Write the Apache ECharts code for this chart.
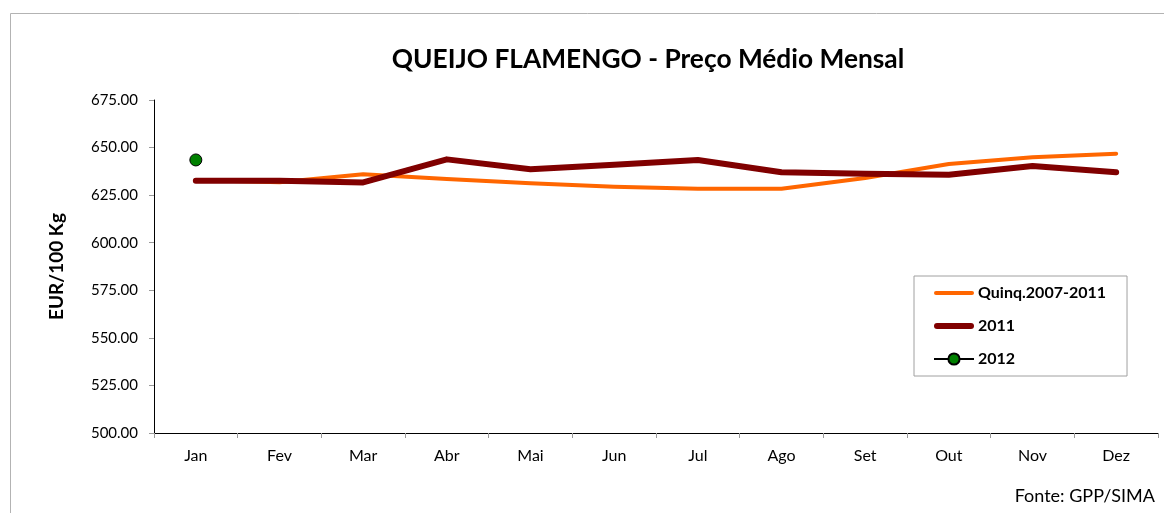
<!DOCTYPE html>
<html>
<head>
<meta charset="utf-8">
<script src="https://cdn.jsdelivr.net/npm/echarts@6/dist/echarts.min.js"></script>
<style>
  html, body { margin: 0; padding: 0; background: #fff; }
  #chart { width: 1164px; height: 513px; }
</style>
</head>
<body>
<div id="chart"></div>
<script>
const months = ['Jan', 'Fev', 'Mar', 'Abr', 'Mai', 'Jun', 'Jul', 'Ago', 'Set', 'Out', 'Nov', 'Dez']
const quinq = [633.0, 631.8, 636.0, 633.5, 631.2, 629.4, 628.4, 628.4, 634.0, 641.4, 644.9, 646.8]
const y2011 = [632.6, 632.5, 631.7, 643.8, 638.6, 641.0, 643.5, 637.0, 636.3, 635.7, 640.3, 637.0]
const y2012 = [643.5, null, null, null, null, null, null, null, null, null, null, null]

const font = 'Lato, Carlito, "Open Sans", sans-serif'

// legend icons: plain lines, no marker
const thinLine = 'path://M2,0 H38 A2,2 0 0 1 38,4 H2 A2,2 0 0 1 2,0 Z'
const thickLine = 'path://M3,0 H37 A3,3 0 0 1 37,6 H3 A3,3 0 0 1 3,0 Z'

const chart = echarts.init(document.getElementById('chart'))

chart.setOption({
  animation: false,
  textStyle: { fontFamily: font },
  graphic: [
    {
      type: 'rect',
      shape: { x: 10.5, y: 13.5, width: 1300, height: 700 },
      style: { fill: 'none', stroke: '#b3b3b3', lineWidth: 1 },
      silent: true
    },
    {
      type: 'text',
      style: {
        text: 'QUEIJO FLAMENGO - Preço Médio Mensal',
        x: 648,
        y: 60,
        align: 'center',
        verticalAlign: 'middle',
        fontFamily: font,
        fontSize: 26.3,
        fontWeight: 'bold',
        fill: '#000'
      }
    },
    {
      type: 'text',
      style: {
        text: 'Fonte: GPP/SIMA',
        x: 1155,
        y: 496,
        align: 'right',
        verticalAlign: 'middle',
        fontFamily: font,
        fontSize: 18,
        fill: '#000'
      }
    }
  ],
  legend: {
    orient: 'vertical',
    left: 914,
    top: 276,
    padding: [9, 21, 9, 19],
    itemGap: 17,
    itemWidth: 40,
    itemHeight: 14,
    borderColor: '#a0a0a0',
    borderWidth: 1,
    backgroundColor: '#fff',
    textStyle: { fontFamily: font, fontSize: 16, fontWeight: 'bold', color: '#000', padding: [0, 0, 0, -1] },
    data: [
      { name: 'Quinq.2007-2011', icon: thinLine },
      { name: '2011', icon: thickLine },
      { name: '2012' }
    ]
  },
  grid: { left: 154, right: 6, top: 100, bottom: 80 },
  xAxis: {
    type: 'category',
    data: months,
    boundaryGap: true,
    axisLine: { lineStyle: { color: '#000', width: 1 } },
    axisTick: { show: true, length: 5, lineStyle: { color: '#999' } },
    axisLabel: { color: '#000', fontSize: 16, margin: 15, fontFamily: font }
  },
  yAxis: {
    type: 'value',
    min: 500,
    max: 675,
    interval: 25,
    name: 'EUR/100 Kg',
    nameLocation: 'middle',
    nameGap: 88,
    nameRotate: 90,
    nameTextStyle: { fontFamily: font, fontSize: 19, fontWeight: 'bold', color: '#000' },
    axisLine: { show: true, lineStyle: { color: '#000', width: 1 } },
    axisTick: { show: true, length: 5, lineStyle: { color: '#999' } },
    splitLine: { show: false },
    axisLabel: {
      color: '#000',
      fontSize: 15,
      margin: 16,
      fontFamily: font,
      formatter: v => v.toFixed(2)
    }
  },
  series: [
    {
      name: 'Quinq.2007-2011',
      type: 'line',
      data: quinq,
      symbol: 'none',
      color: '#ff6600',
      lineStyle: { color: '#ff6600', width: 4, cap: 'round', join: 'round' }
    },
    {
      name: '2011',
      type: 'line',
      data: y2011,
      symbol: 'none',
      color: '#800000',
      lineStyle: { color: '#800000', width: 6, cap: 'round', join: 'round' }
    },
    {
      name: '2012',
      type: 'line',
      data: y2012,
      symbol: 'circle',
      symbolSize: 12,
      showAllSymbol: true,
      color: '#008000',
      itemStyle: { color: '#008000', borderColor: '#000', borderWidth: 1 },
      lineStyle: { color: '#000', width: 1 }
    }
  ]
})
</script>
</body>
</html>
